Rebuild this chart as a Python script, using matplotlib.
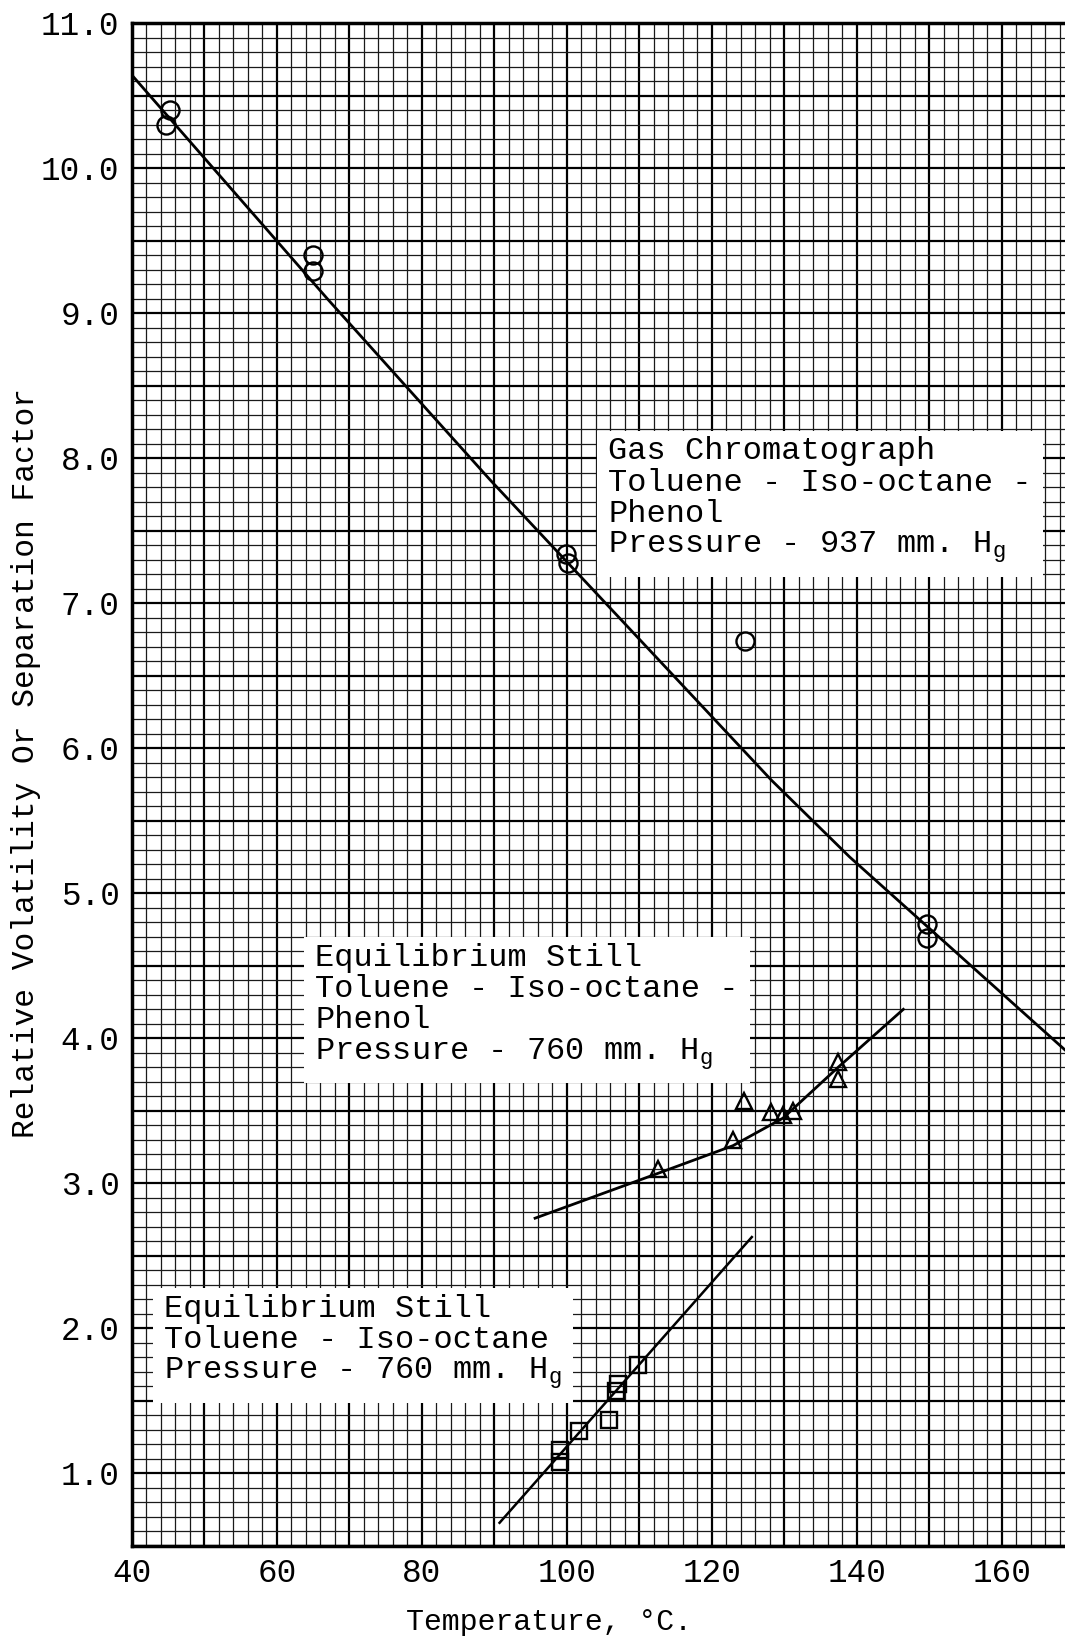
import matplotlib
matplotlib.use("Agg")
import matplotlib.pyplot as plt
from matplotlib.ticker import MultipleLocator, FuncFormatter

plt.rcParams['font.family'] = ['Liberation Mono', 'DejaVu Sans Mono']
plt.rcParams['mathtext.fontset'] = 'custom'
plt.rcParams['mathtext.rm'] = 'Liberation Mono'

# plynový chromatograf, 937 mm Hg (kroužky)
gc_t = [45.3, 44.7, 64.9, 64.9, 99.8, 100.1, 124.5, 149.6, 149.6]
gc_a = [10.40, 10.30, 9.40, 9.29, 7.34, 7.28, 6.74, 4.79, 4.69]
gc_line_t = [40, 67.1, 89.4, 128.2, 139.0, 168.7]
gc_line_a = [10.64, 9.09, 7.85, 5.78, 5.25, 3.92]

# rovnovážná aparatura s fenolem, 760 mm Hg (trojúhelníky)
ph_t = [112.6, 122.9, 124.4, 128.2, 129.8, 131.2, 137.4, 137.4]
ph_a = [3.10, 3.30, 3.57, 3.49, 3.47, 3.50, 3.84, 3.72]
ph_line_t = [95.6, 112.6, 122.9, 129.8, 137.4, 146.4]
ph_line_a = [2.76, 3.07, 3.26, 3.45, 3.80, 4.20]

# rovnovážná aparatura bez fenolu, 760 mm Hg (čtverečky)
st_t = [99.0, 99.0, 101.7, 105.8, 106.8, 107.1, 109.8]
st_a = [1.16, 1.08, 1.29, 1.37, 1.57, 1.62, 1.75]
st_line_t = [90.7, 125.5]
st_line_a = [0.66, 2.63]

fig = plt.figure(figsize=(10.65, 16.38), dpi=100)
ax = fig.add_axes([132/1065, 92/1638, 933/1065, 1523/1638])

ax.set_xlim(40, 168.7)
ax.set_ylim(0.5, 11.0)

# milimetrový papír
ax.xaxis.set_major_locator(MultipleLocator(10))
ax.xaxis.set_minor_locator(MultipleLocator(2))
ax.yaxis.set_major_locator(MultipleLocator(0.5))
ax.yaxis.set_minor_locator(MultipleLocator(0.1))
ax.xaxis.set_major_formatter(FuncFormatter(lambda v, p: f'{v:.0f}' if v % 20 == 0 else ''))
ax.yaxis.set_major_formatter(FuncFormatter(lambda v, p: f'{v:.1f}' if abs(v - round(v)) < 1e-6 else ''))
ax.grid(which='major', color='black', lw=1.6)
ax.grid(which='minor', color='#1a1a1a', lw=0.9)
ax.set_axisbelow(True)
ax.tick_params(which='both', length=0)
ax.tick_params(axis='x', pad=9, labelsize=23.5)
ax.tick_params(axis='y', pad=9, labelsize=23.5)

for s in ['left', 'bottom', 'top']:
    ax.spines[s].set_linewidth(2.5)
ax.spines['right'].set_visible(False)

ax.plot(gc_line_t, gc_line_a, color='black', lw=2)
ax.plot(gc_t, gc_a, 'o', ms=13, mfc='none', mec='black', mew=1.7)

ax.plot(ph_line_t, ph_line_a, color='black', lw=2)
ax.plot(ph_t, ph_a, '^', ms=11, mfc='none', mec='black', mew=1.7)

ax.plot(st_line_t, st_line_a, color='black', lw=1.8)
ax.plot(st_t, st_a, 's', ms=12, mfc='none', mec='black', mew=1.7)

box = dict(boxstyle='square,pad=0.35', fc='white', ec='none')
ax.text(105.7, 8.15, 'Gas Chromatograph\nToluene - Iso-octane -\nPhenol\nPressure - 937 mm. H$_{\\rm g}$',
        fontsize=23, ha='left', va='top', linespacing=1.05, bbox=box, zorder=3)
ax.text(65.3, 4.66, 'Equilibrium Still\nToluene - Iso-octane -\nPhenol\nPressure - 760 mm. H$_{\\rm g}$',
        fontsize=23, ha='left', va='top', linespacing=1.05, bbox=box, zorder=3)
ax.text(44.4, 2.24, 'Equilibrium Still\nToluene - Iso-octane\nPressure - 760 mm. H$_{\\rm g}$',
        fontsize=23, ha='left', va='top', linespacing=1.05, bbox=box, zorder=3)

ax.set_xlabel('Temperature, °C.', fontsize=21.5, va='center')
ax.xaxis.set_label_coords(0.447, -0.050)
ax.set_ylabel('Relative Volatility Or Separation Factor', fontsize=22.5, va='center')
ax.yaxis.set_label_coords(-0.1136, 0.514)

fig.savefig('out.png', dpi=100)
